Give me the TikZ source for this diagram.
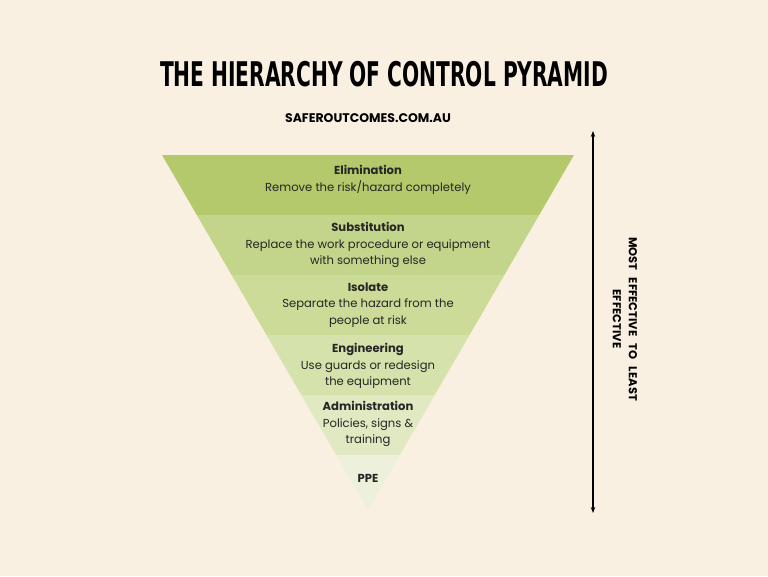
\documentclass[tikz,border=0pt]{standalone}
\usepackage{fontspec}
\setmainfont{Poppins}
\newfontfamily\titlefont{DejaVu Sans Condensed}
\usetikzlibrary{positioning, arrows.meta}
\definecolor{bgcream}{HTML}{FAF0E1}
\definecolor{bandA}{HTML}{B3C96B}
\definecolor{bandB}{HTML}{C3D58A}
\definecolor{bandC}{HTML}{CCDB98}
\definecolor{bandD}{HTML}{D5E2AB}
\definecolor{bandE}{HTML}{E0E9C2}
\definecolor{bandF}{HTML}{EDF0DA}

\begin{document}
\begin{tikzpicture}[
	x=1pt, y=-1pt,
	lvl/.style = {shape=rectangle, draw=none, align=center, font=\fontsize{11.6}{16.5}\selectfont, text=black!85},
	]
\fill[bgcream] (0,0) rectangle (768,576);
\useasboundingbox (0,0) rectangle (768,576);
% title and source
\node[xscale=0.66] (title) at (384,74) {\titlefont\bfseries\fontsize{34}{36}\selectfont THE HIERARCHY OF CONTROL PYRAMID};
\node (site) at (368,118) {\bfseries\fontsize{12.5}{14}\selectfont SAFEROUTCOMES.COM.AU};
% bands of the pyramid
\begin{scope}
	\clip (162,155) -- (574,155) -- (368,510) -- cycle;
	\fill[bandA] (150,155) rectangle (590,215);
	\fill[bandB] (150,215) rectangle (590,275);
	\fill[bandC] (150,275) rectangle (590,335);
	\fill[bandD] (150,335) rectangle (590,395);
	\fill[bandE] (150,395) rectangle (590,455);
	\fill[bandF] (150,455) rectangle (590,515);
\end{scope}
% band labels, from top to bottom
\node[lvl] (elim) at (368,180) {\textbf{Elimination}\\Remove the risk/hazard completely};
\node[lvl] (subst) at (368,245) {\textbf{Substitution}\\Replace the work procedure or equipment\\with something else};
\node[lvl] (isol) at (368,305) {\textbf{Isolate}\\Separate the hazard from the\\people at risk};
\node[lvl] (engin) at (368,366) {\textbf{Engineering}\\Use guards or redesign\\the equipment};
\node[lvl] (admin) at (368,424) {\textbf{Administration}\\Policies, signs \&\\training};
\node[lvl] (ppe) at (368,478) {\textbf{PPE}};
% effectiveness arrow
\coordinate (top) at (593,131);
\coordinate (bot) at (593,513);
\draw[line width=1.6pt, {Stealth[length=6pt]}-{Stealth[length=6pt]}] (top) -- (bot);
\node[rotate=-90, align=center, font=\bfseries\fontsize{11.5}{16}\selectfont] (eff) at (625,319) {MOST~~~EFFECTIVE~~~TO~~~LEAST\\EFFECTIVE};
\end{tikzpicture}
\end{document}
